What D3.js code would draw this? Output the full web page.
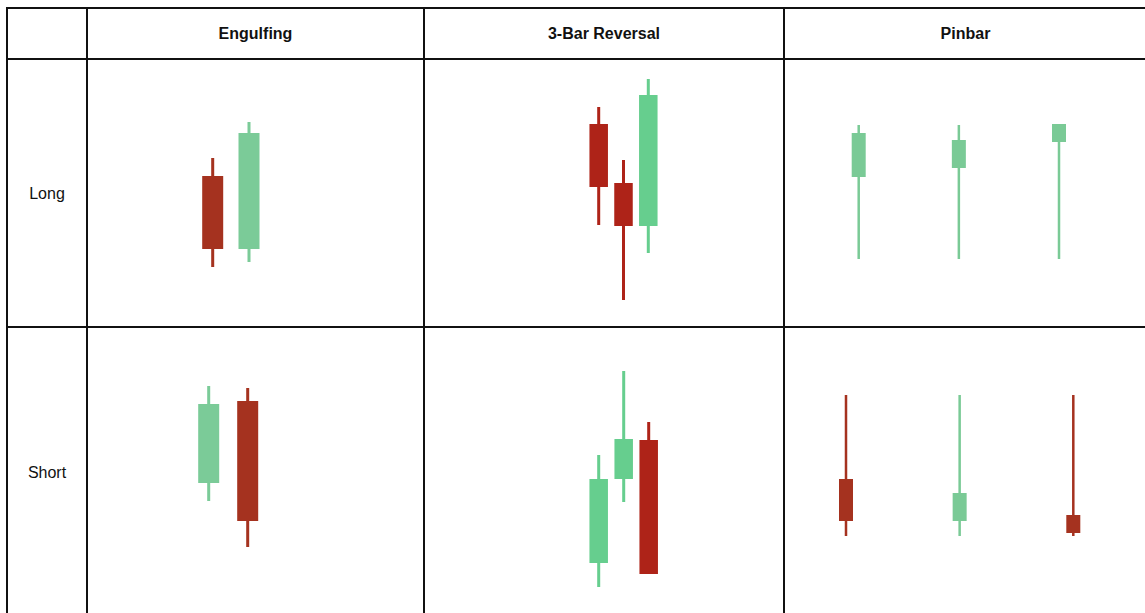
<!DOCTYPE html>
<html>
<head>
<meta charset="utf-8">
<script src="https://cdn.jsdelivr.net/npm/d3@7"></script>
<style>
  body { margin: 0; background: #fff; }
  svg { display: block; font-family: "Liberation Sans", Arial, sans-serif; }
</style>
</head>
<body>
<div class="chart"></div>
<script>
// Table headers
var columns = ["Engulfing", "3-Bar Reversal", "Pinbar"];
var rows = ["Long", "Short"];

// OHLC values for each cell (arbitrary price units)
var engulfingLong = [
  { o: 75.5, h: 84.5, l: 30, c: 39 },
  { o: 39, h: 102.5, l: 32.5, c: 97 }
];
var engulfingShort = [
  { o: 56, h: 104.5, l: 47, c: 95.5 },
  { o: 97, h: 103.5, l: 24, c: 37 }
];
var threeBarLong = [
  { o: 101.5, h: 110, l: 51, c: 70 },
  { o: 72, h: 83.5, l: 13.5, c: 50.5 },
  { o: 50.5, h: 124, l: 37, c: 116 }
];
var threeBarShort = [
  { o: 16, h: 70, l: 4, c: 58 },
  { o: 58, h: 112, l: 46.5, c: 78 },
  { o: 77.5, h: 86.5, l: 10.5, c: 10.5 }
];
var pinbarLong = [
  { o: 75, h: 101, l: 34, c: 97 },
  { o: 79.5, h: 101, l: 34, c: 93.5 },
  { o: 92.5, h: 101.5, l: 34, c: 101.5 }
];
var pinbarShort = [
  { o: 58, h: 100, l: 29.5, c: 37 },
  { o: 37, h: 100, l: 29.5, c: 51 },
  { o: 40, h: 100, l: 29.5, c: 31 }
];

var cellData = [
  [engulfingLong, threeBarLong, pinbarLong],
  [engulfingShort, threeBarShort, pinbarShort]
];

// Layout of the table
var svgWidth = 1145;
var svgHeight = 613;
var colEdges = [7, 87, 424, 784, 1147];
var rowEdges = [8, 59, 327, 617];
var priceMax = 134; // 1 unit = 2px

// Per column styling, per cell candle placement [first, last] centre x
var colStyle = [
  { up: "#7bcb98", down: "#a5321f", body: 21, wick: 3 },
  { up: "#66ce8e", down: "#ae2318", body: 18.5, wick: 3 },
  { up: "#7aca96", down: "#a5321f", body: 14, wick: 2.5 }
];
var cellSpan = [
  [[212.7, 249], [598.7, 648.3], [858.7, 1059]],
  [[208.7, 247.7], [598.7, 648.7], [846, 1073.3]]
];

var svg = d3.select(".chart")
  .append("svg")
  .attr("width", svgWidth)
  .attr("height", svgHeight);

// Header texts
svg.selectAll(".colhead")
  .data(columns)
  .enter()
  .append("text")
  .attr("class", "colhead")
  .attr("x", (d, i) => (colEdges[i + 1] + colEdges[i + 2]) / 2)
  .attr("y", (rowEdges[0] + rowEdges[1]) / 2)
  .attr("dy", "0.35em")
  .attr("text-anchor", "middle")
  .style("font-size", "16px")
  .style("font-weight", "bold")
  .style("fill", "#111")
  .text(d => d);

svg.selectAll(".rowhead")
  .data(rows)
  .enter()
  .append("text")
  .attr("class", "rowhead")
  .attr("x", (colEdges[0] + colEdges[1]) / 2)
  .attr("y", (d, i) => (rowEdges[i + 1] + rowEdges[i + 2]) / 2)
  .attr("dy", "0.35em")
  .attr("text-anchor", "middle")
  .style("font-size", "16px")
  .style("fill", "#111")
  .text(d => d);

// Candles
rows.forEach(function (r, ri) {
  var top = rowEdges[ri + 1];
  var y = d3.scaleLinear()
    .domain([0, priceMax])
    .range([top + priceMax * 2, top]);

  columns.forEach(function (c, ci) {
    var data = cellData[ri][ci];
    var st = colStyle[ci];
    var x = d3.scalePoint()
      .domain(d3.range(data.length))
      .range(cellSpan[ri][ci]);

    var g = svg.append("g").attr("class", "cell");
    var color = d => d.c >= d.o ? st.up : st.down;

    g.selectAll(".wick")
      .data(data)
      .enter()
      .append("rect")
      .attr("class", "wick")
      .attr("x", (d, i) => x(i) - st.wick / 2)
      .attr("width", st.wick)
      .attr("y", d => y(d.h))
      .attr("height", d => y(d.l) - y(d.h))
      .style("fill", color);

    g.selectAll(".body")
      .data(data)
      .enter()
      .append("rect")
      .attr("class", "body")
      .attr("x", (d, i) => x(i) - st.body / 2)
      .attr("width", st.body)
      .attr("y", d => y(Math.max(d.o, d.c)))
      .attr("height", d => Math.abs(y(d.o) - y(d.c)))
      .style("fill", color);
  });
});

// Grid lines
svg.selectAll(".vline")
  .data(colEdges)
  .enter()
  .append("line")
  .attr("x1", d => d).attr("x2", d => d)
  .attr("y1", rowEdges[0] - 1).attr("y2", rowEdges[3])
  .attr("stroke", "#111")
  .attr("stroke-width", 2);

svg.selectAll(".hline")
  .data(rowEdges)
  .enter()
  .append("line")
  .attr("x1", colEdges[0] - 1).attr("x2", colEdges[4])
  .attr("y1", d => d).attr("y2", d => d)
  .attr("stroke", "#111")
  .attr("stroke-width", 2);
</script>
</body>
</html>
